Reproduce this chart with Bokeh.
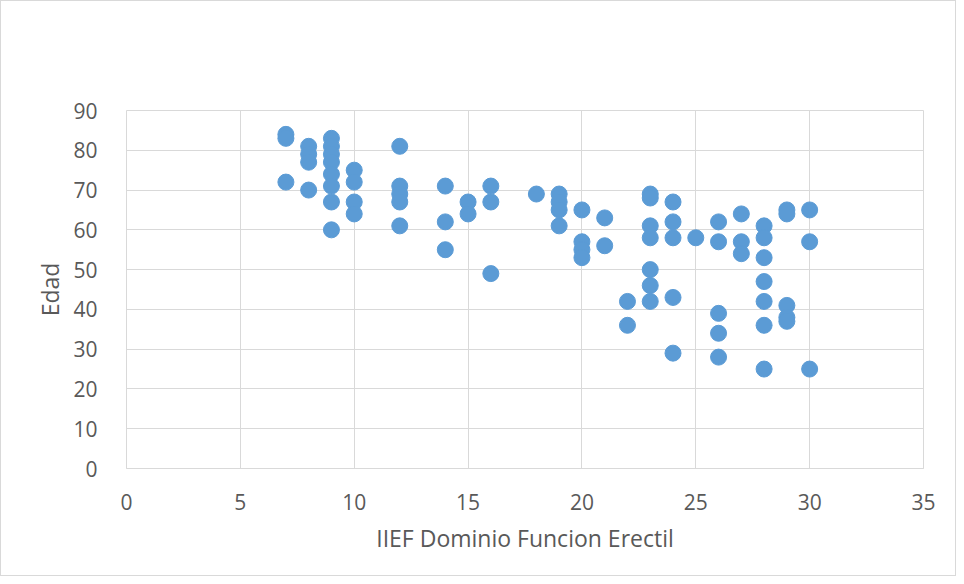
from bokeh.plotting import figure
from bokeh.models import Range1d, SingleIntervalTicker
from bokeh.embed import file_html
from bokeh.resources import INLINE

# IIEF score (x) and age (y) for each patient
iief = [7, 7, 7,
        8, 8, 8, 8,
        9, 9, 9, 9, 9, 9, 9, 9,
        10, 10, 10, 10,
        12, 12, 12, 12, 12,
        14, 14, 14,
        15, 15,
        16, 16, 16,
        18,
        19, 19, 19, 19,
        20, 20, 20, 20,
        21, 21,
        22, 22,
        23, 23, 23, 23, 23, 23, 23,
        24, 24, 24, 24, 24,
        25,
        26, 26, 26, 26, 26,
        27, 27, 27,
        28, 28, 28, 28, 28, 28, 28,
        29, 29, 29, 29, 29,
        30, 30, 30]
edad = [84, 83, 72,
        81, 79, 77, 70,
        83, 81, 79, 77, 74, 71, 67, 60,
        75, 72, 67, 64,
        81, 71, 69, 67, 61,
        71, 62, 55,
        67, 64,
        71, 67, 49,
        69,
        69, 67, 65, 61,
        65, 57, 55, 53,
        63, 56,
        42, 36,
        69, 68, 61, 58, 50, 46, 42,
        67, 62, 58, 43, 29,
        58,
        62, 57, 39, 34, 28,
        64, 57, 54,
        61, 58, 53, 47, 42, 36, 25,
        65, 64, 41, 38, 37,
        65, 57, 25]

x_title = "IIEF Dominio Funcion Erectil"
y_title = "Edad"

FONT = "Open Sans"
TXT = "#595959"
GRID = "#d9d9d9"

p = figure(width=956, height=576, output_backend="svg", toolbar_location=None,
           x_range=Range1d(0, 35), y_range=Range1d(0, 90),
           min_border_left=125, min_border_right=34,
           min_border_top=109, min_border_bottom=109)
p.styles = {"border": "1px solid #d9d9d9"}
p.outline_line_color = GRID
p.background_fill_color = "white"
p.border_fill_color = "white"

p.scatter(iief, edad, size=16, fill_color="#5B9BD5", line_color="#5B9BD5")

p.xaxis.ticker = SingleIntervalTicker(interval=5)
p.yaxis.ticker = SingleIntervalTicker(interval=10)
p.xgrid.ticker = SingleIntervalTicker(interval=5)
p.ygrid.ticker = SingleIntervalTicker(interval=10)
for g in (p.xgrid, p.ygrid):
    g.grid_line_color = GRID
    g.grid_line_width = 1

for ax in (p.xaxis, p.yaxis):
    ax.major_tick_line_color = None
    ax.minor_tick_line_color = None
    ax.major_label_text_font = FONT
    ax.major_label_text_font_size = "21px"
    ax.major_label_text_color = TXT
    ax.axis_label_text_font = FONT
    ax.axis_label_text_font_size = "23px"
    ax.axis_label_text_color = TXT
    ax.axis_label_text_font_style = "normal"

p.xaxis.axis_line_color = GRID
p.yaxis.axis_line_color = None
p.xaxis.axis_label = x_title
p.yaxis.axis_label = y_title
p.xaxis.major_label_standoff = 19
p.yaxis.major_label_standoff = 23
p.xaxis.axis_label_standoff = 9
p.yaxis.axis_label_standoff = 4

open("out.html", "w").write(file_html(p, INLINE))
